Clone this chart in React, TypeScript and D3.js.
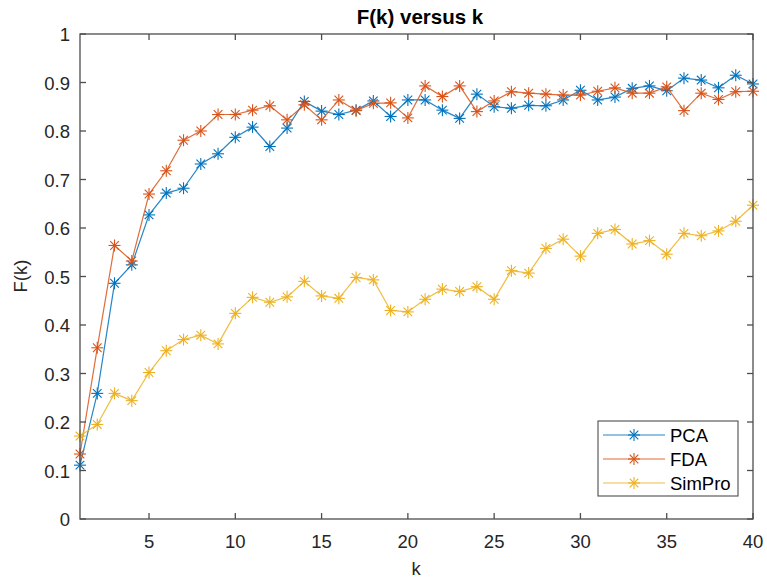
import React from "react";
import * as d3 from "d3";

const ks = d3.range(1, 41);
const pca = [0.111, 0.259, 0.486, 0.524, 0.627, 0.672, 0.682, 0.732, 0.753, 0.787, 0.808, 0.768, 0.806, 0.861, 0.841, 0.834, 0.843, 0.862, 0.830, 0.864, 0.864, 0.843, 0.826, 0.876, 0.850, 0.847, 0.853, 0.852, 0.864, 0.884, 0.864, 0.870, 0.888, 0.893, 0.883, 0.909, 0.905, 0.889, 0.915, 0.897];
const fda = [0.134, 0.353, 0.564, 0.532, 0.670, 0.718, 0.781, 0.800, 0.834, 0.834, 0.843, 0.852, 0.823, 0.854, 0.823, 0.864, 0.842, 0.857, 0.858, 0.827, 0.893, 0.871, 0.893, 0.840, 0.862, 0.881, 0.878, 0.876, 0.874, 0.874, 0.882, 0.889, 0.878, 0.878, 0.891, 0.842, 0.878, 0.865, 0.881, 0.882];
const simpro = [0.171, 0.195, 0.259, 0.244, 0.302, 0.347, 0.370, 0.379, 0.361, 0.424, 0.457, 0.447, 0.458, 0.490, 0.460, 0.455, 0.498, 0.493, 0.430, 0.427, 0.453, 0.474, 0.469, 0.479, 0.453, 0.512, 0.507, 0.558, 0.577, 0.542, 0.589, 0.597, 0.567, 0.574, 0.546, 0.589, 0.584, 0.594, 0.614, 0.647];
const seriesNames = ["PCA", "FDA", "SimPro"];
const seriesColors = ["#0072BD", "#D95319", "#EDB120"];
const xTicks = [5, 10, 15, 20, 25, 30, 35, 40];
const yTicks = [0, 0.1, 0.2, 0.3, 0.4, 0.5, 0.6, 0.7, 0.8, 0.9, 1];

const W = 767, H = 580;
const L = 80, R = 753, T = 34, B = 519;
const FONT = "'Liberation Sans', Arial, Helvetica, sans-serif";
const AX = "#4d4d4d";

function Star({ x, y, color, r = 6 }: { x: number; y: number; color: string; r?: number }) {
  const d = r * 0.72;
  return (
    <g stroke={color} strokeWidth={1.1}>
      <line x1={x - r} y1={y} x2={x + r} y2={y} />
      <line x1={x} y1={y - r} x2={x} y2={y + r} />
      <line x1={x - d} y1={y - d} x2={x + d} y2={y + d} />
      <line x1={x - d} y1={y + d} x2={x + d} y2={y - d} />
    </g>
  );
}

export default function App() {
  const x = d3.scaleLinear().domain([1, 40]).range([L, R]);
  const y = d3.scaleLinear().domain([0, 1]).range([B, T]);
  const data = [pca, fda, simpro];
  const line = d3.line<number>().x((_, i) => x(ks[i])).y((v) => y(v));
  const tl = 6;
  return (
    <svg width={W} height={H} style={{ position: "absolute", left: 0, top: 0, background: "#fff" }} fontFamily={FONT}>
      <rect x={0} y={0} width={W} height={H} fill="#fff" />
      {data.map((s, si) => (
        <g key={si}>
          <path d={line(s) || ""} fill="none" stroke={seriesColors[si]} strokeWidth={1.2} opacity={0.85} />
          {s.map((v, i) => (
            <Star key={i} x={x(ks[i])} y={y(v)} color={seriesColors[si]} />
          ))}
        </g>
      ))}
      <rect x={L} y={T} width={R - L} height={B - T} fill="none" stroke={AX} strokeWidth={1.3} />
      {xTicks.map((t) => (
        <g key={"x" + t}>
          <line x1={x(t)} x2={x(t)} y1={B} y2={B - tl} stroke={AX} strokeWidth={1.3} />
          <line x1={x(t)} x2={x(t)} y1={T} y2={T + tl} stroke={AX} strokeWidth={1.3} />
          <text x={x(t)} y={548} textAnchor="middle" fontSize={18.5} fill="#262626">{t}</text>
        </g>
      ))}
      {yTicks.map((t) => (
        <g key={"y" + t}>
          <line x1={L} x2={L + tl} y1={y(t)} y2={y(t)} stroke={AX} strokeWidth={1.3} />
          <line x1={R} x2={R - tl} y1={y(t)} y2={y(t)} stroke={AX} strokeWidth={1.3} />
          <text x={70} y={y(t) + 7} textAnchor="end" fontSize={18.5} fill="#262626">{String(t)}</text>
        </g>
      ))}
      <text x={420} y={24} textAnchor="middle" fontSize={20.5} fontWeight="bold" fill="#000">F(k) versus k</text>
      <text x={416} y={575} textAnchor="middle" fontSize={18.5} fill="#262626">k</text>
      <text transform={`translate(27,${276}) rotate(-90)`} textAnchor="middle" fontSize={18.5} fill="#262626">F(k)</text>
      <rect x={598} y={421} width={140} height={75} fill="#fff" stroke={AX} strokeWidth={1.1} />
      {seriesNames.map((n, i) => {
        const ly = 435 + i * 24;
        return (
          <g key={n}>
            <line x1={603} x2={665} y1={ly} y2={ly} stroke={seriesColors[i]} strokeWidth={1.2} opacity={0.85} />
            <Star x={634} y={ly} color={seriesColors[i]} />
            <text x={670} y={ly + 6.5} fontSize={18.5} fill="#000">{n}</text>
          </g>
        );
      })}
    </svg>
  );
}
